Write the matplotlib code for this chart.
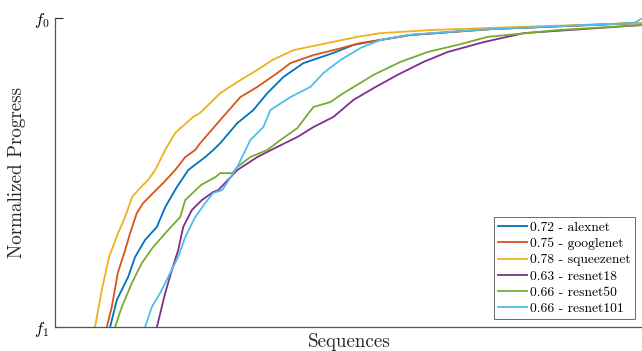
import numpy as np
import matplotlib
matplotlib.use('Agg')
import matplotlib.pyplot as plt

plt.rcParams['font.family'] = 'cmr10'
plt.rcParams['mathtext.fontset'] = 'cm'
plt.rcParams['axes.formatter.use_mathtext'] = True

# x: share of sequences (%), y: normalized progress (0 = f1, 1 = f0)
alexnet_x = [9.37, 10.51, 12.44, 13.63, 15.33, 17.33, 18.74, 20.73, 22.66, 25.55, 26.92, 28.11,
             31.01, 33.73, 36.12, 38.84, 42.25, 47.36, 50.77, 55.37, 60.48, 74.11, 99.66]
alexnet_y = [0.0, 0.087, 0.162, 0.227, 0.282, 0.324, 0.388, 0.453, 0.508, 0.550, 0.573, 0.595,
             0.660, 0.702, 0.757, 0.809, 0.854, 0.887, 0.913, 0.929, 0.945, 0.964, 0.984]

googlenet_x = [8.81, 9.66, 10.68, 11.93, 12.78, 13.92, 14.99, 16.70, 18.40, 20.44, 22.15, 23.85,
               24.70, 28.11, 31.52, 34.41, 37.82, 40.03, 43.95, 47.36, 51.96, 55.37, 60.48, 74.11,
               99.66]
googlenet_y = [0.0, 0.065, 0.175, 0.249, 0.304, 0.369, 0.401, 0.434, 0.466, 0.508, 0.550, 0.573,
               0.595, 0.670, 0.744, 0.777, 0.822, 0.854, 0.880, 0.896, 0.919, 0.929, 0.945, 0.964,
               0.984]

squeezenet_x = [6.81, 7.96, 9.20, 10.73, 11.92, 13.12, 14.48, 15.84, 17.04, 18.74, 20.44, 23.51,
                24.70, 28.11, 31.52, 34.41, 36.97, 40.55, 46.34, 51.45, 55.37, 63.88, 74.11, 99.66]
squeezenet_y = [0.0, 0.120, 0.227, 0.304, 0.356, 0.421, 0.450, 0.476, 0.508, 0.573, 0.628, 0.680,
                0.693, 0.757, 0.799, 0.832, 0.864, 0.896, 0.919, 0.939, 0.951, 0.961, 0.968, 0.984]

resnet18_x = [17.33, 18.74, 19.88, 20.95, 21.81, 23.29, 24.99, 26.92, 27.77, 31.01, 34.41, 37.82,
              41.23, 43.95, 47.36, 50.77, 54.17, 58.26, 62.69, 66.78, 72.91, 79.73, 99.66]
resnet18_y = [0.0, 0.110, 0.184, 0.249, 0.324, 0.379, 0.411, 0.437, 0.443, 0.508, 0.550, 0.583,
              0.615, 0.647, 0.680, 0.735, 0.773, 0.816, 0.858, 0.890, 0.922, 0.951, 0.977]

resnet50_x = [10.22, 11.36, 13.07, 14.77, 16.70, 19.25, 21.30, 22.15, 24.87, 27.26, 28.11, 30.15,
              31.01, 33.22, 36.12, 38.33, 41.23, 42.25, 43.95, 46.85, 49.06, 51.96, 54.17, 58.77,
              63.37, 68.48, 73.59, 85.52, 99.66]
resnet50_y = [0.0, 0.065, 0.142, 0.207, 0.259, 0.314, 0.356, 0.411, 0.460, 0.485, 0.498, 0.498,
              0.518, 0.550, 0.573, 0.605, 0.644, 0.670, 0.712, 0.728, 0.757, 0.790, 0.816, 0.858,
              0.890, 0.913, 0.939, 0.961, 0.977]

resnet101_x = [15.33, 16.47, 17.89, 19.59, 20.95, 22.15, 23.85, 25.55, 26.92, 28.45, 31.01, 33.22,
               35.43, 36.63, 40.03, 43.44, 45.66, 48.55, 51.96, 55.37, 59.97, 63.88, 74.11, 98.47,
               100.0]
resnet101_y = [0.0, 0.065, 0.110, 0.175, 0.227, 0.291, 0.356, 0.401, 0.434, 0.443, 0.518, 0.605,
               0.647, 0.702, 0.744, 0.777, 0.822, 0.864, 0.903, 0.929, 0.945, 0.951, 0.964, 0.984,
               1.0]

series = [
    (alexnet_x, alexnet_y, '0.72 - alexnet', '#0072BD'),
    (googlenet_x, googlenet_y, '0.75 - googlenet', '#D95319'),
    (squeezenet_x, squeezenet_y, '0.78 - squeezenet', '#EDB120'),
    (resnet18_x, resnet18_y, '0.63 - resnet18', '#7E2F8E'),
    (resnet50_x, resnet50_y, '0.66 - resnet50', '#77AC30'),
    (resnet101_x, resnet101_y, '0.66 - resnet101', '#4DBEEE'),
]

fig = plt.figure(figsize=(6.42, 3.51), dpi=100)
ax = fig.add_axes([55 / 642, 24 / 351, 588 / 642, 309 / 351])

for xs, ys, label, color in series:
    ax.plot(xs, ys, color=color, lw=1.3, label=label)

ax.set_xlim(0, 100)
ax.set_ylim(0, 1)
ax.set_yticks([0, 1])
ax.set_yticklabels(['$f_1$', '$f_0$'], fontsize=12)
ax.set_xticks([])
ax.tick_params(axis='y', direction='in', length=6, width=0.8, color='#262626', pad=4)

for side in ['top', 'right']:
    ax.spines[side].set_visible(False)
for side in ['left', 'bottom']:
    ax.spines[side].set_color('#555555')
    ax.spines[side].set_linewidth(0.9)

ax.set_xlabel('Sequences', fontsize=13.7, color='#262626')
ax.xaxis.set_label_coords(0.5, -0.02)
ax.xaxis.label.set_va('top')
ax.set_ylabel('Normalized Progress', fontsize=13.7, color='#262626')
ax.yaxis.set_label_coords(-0.049, 0.5)

leg = ax.legend(loc='lower right', bbox_to_anchor=(580 / 588, 8 / 309), fontsize=9.8,
                frameon=True, fancybox=False, edgecolor='#262626', handlelength=2.1,
                handletextpad=0.25, labelspacing=0.27, borderpad=0.3, borderaxespad=0)
leg.get_frame().set_linewidth(0.6)

fig.savefig('out.png', dpi=100)
